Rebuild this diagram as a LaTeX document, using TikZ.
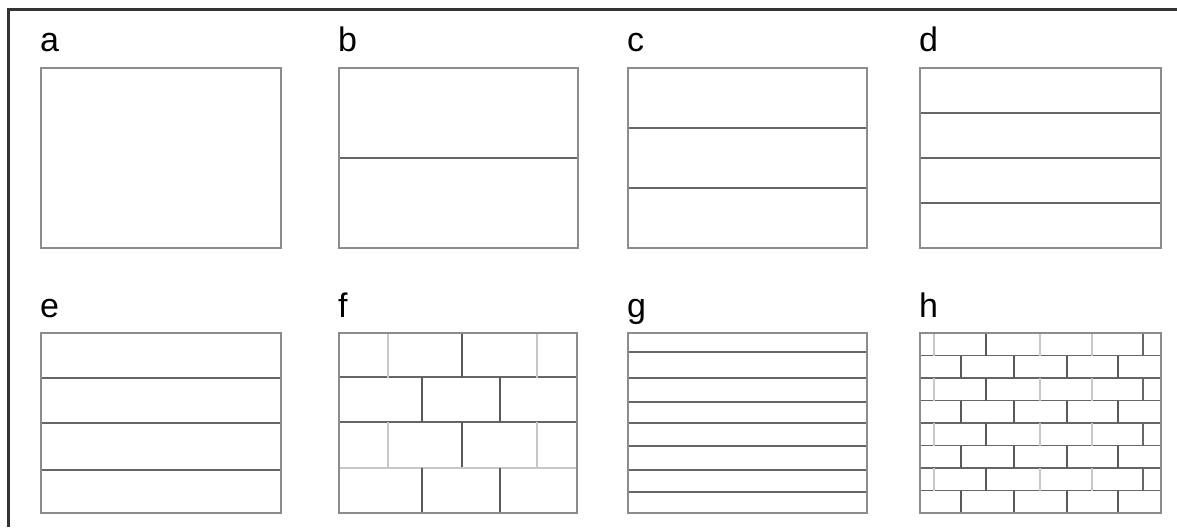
\documentclass[tikz,border=0pt]{standalone}
\usepackage{fontspec}
\setmainfont{Liberation Sans}
\usepackage{tikz}

\begin{document}
\begin{tikzpicture}[
  x=1pt, y=-1pt,
  frame/.style={draw=black!80, line width=3pt},
  panel/.style={draw=black!45, line width=2pt},
  course/.style={draw=black!60, line width=1.8pt},
  joint/.style={draw=black!65, line width=1.8pt},
  lightjoint/.style={draw=black!22, line width=1.8pt},
  tag/.style={anchor=base west, inner sep=0pt, font=\fontsize{34}{40}\selectfont}
]
  \useasboundingbox (0,0) rectangle (1177,527);
  \draw[frame] (8,527) -- (8,10) -- (1177,10);

  % top row
  \node[tag] (la) at (40,52) {a};
  \draw[panel] (41,68) rectangle (281,248);

  \node[tag] (lb) at (338,52) {b};
  \draw[course] (339,158) -- (578,158);
  \draw[panel] (339,68) rectangle (578,248);

  \node[tag] (lc) at (627,52) {c};
  \foreach \y in {128,188}
    \draw[course] (628,\y) -- (867,\y);
  \draw[panel] (628,68) rectangle (867,248);

  \node[tag] (ld) at (919,52) {d};
  \foreach \y in {113,158,203}
    \draw[course] (920,\y) -- (1161,\y);
  \draw[panel] (920,68) rectangle (1161,248);

  % bottom row
  \node[tag] (le) at (40,317) {e};
  \foreach \y in {378,423,470}
    \draw[course] (41,\y) -- (281,\y);
  \draw[panel] (41,333) rectangle (281,513);

  \node[tag] (lf) at (338,317) {f};
  \foreach \y in {377,422}
    \draw[course] (339,\y) -- (577,\y);
  \draw[lightjoint, line width=2.4pt] (339,468) -- (577,468);
  \foreach \t in {333,422} {
    \draw[lightjoint] (388,\t) -- (388,\t+45);
    \draw[joint] (462,\t) -- (462,\t+45);
    \draw[lightjoint] (537,\t) -- (537,\t+45);
  }
  \foreach \t in {377,468}
    \foreach \x in {422,500}
      \draw[joint] (\x,\t) -- (\x,\t+45);
  \draw[panel] (339,333) rectangle (577,513);

  \node[tag] (lg) at (627,317) {g};
  \foreach \y in {352,378,402,423,446,470,492}
    \draw[course] (628,\y) -- (867,\y);
  \draw[panel] (628,333) rectangle (867,513);

  \node[tag] (lh) at (919,317) {h};
  \foreach \i in {1,...,7}
    \draw[course] (920,333+22.5*\i) -- (1161,333+22.5*\i);
  \foreach \i in {0,2,4,6} {
    \draw[lightjoint] (934,333+22.5*\i) -- (934,355.5+22.5*\i);
    \draw[joint] (986,333+22.5*\i) -- (986,355.5+22.5*\i);
    \draw[lightjoint] (1040,333+22.5*\i) -- (1040,355.5+22.5*\i);
    \draw[lightjoint] (1092,333+22.5*\i) -- (1092,355.5+22.5*\i);
    \draw[course] (1143,333+22.5*\i) -- (1143,355.5+22.5*\i);
  }
  \foreach \i in {1,3,5,7}
    \foreach \x in {961,1014,1067,1118}
      \draw[joint] (\x,333+22.5*\i) -- (\x,355.5+22.5*\i);
  \draw[panel] (920,333) rectangle (1161,513);
\end{tikzpicture}
\end{document}
